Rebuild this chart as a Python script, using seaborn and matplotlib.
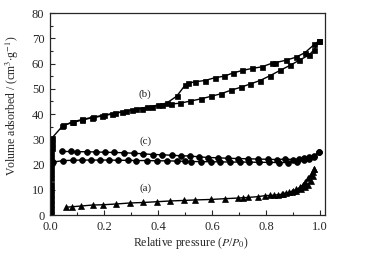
import numpy as np
import pandas as pd
import matplotlib
matplotlib.use('Agg')
import matplotlib.pyplot as plt
import seaborn as sns
from matplotlib.ticker import MultipleLocator

# ---------- 数据 ----------
# (b) 吸附 / 脱附
b_ads_x = [0.003, 0.003, 0.003, 0.004, 0.004, 0.004, 0.004, 0.005, 0.005, 0.005, 0.005, 0.005, 0.005,
           0.006, 0.006, 0.007, 0.049, 0.086, 0.117, 0.154, 0.191, 0.228, 0.265,
           0.302, 0.339, 0.376, 0.414, 0.447, 0.48, 0.517, 0.557, 0.594, 0.631, 0.668, 0.705, 0.74,
           0.777, 0.814, 0.851, 0.888, 0.922, 0.958, 0.978, 0.995]
b_ads_y = [0.5, 2.5, 4.5, 6.5, 8.5, 10.5, 12.5, 14.5, 16.5, 18.5, 20.5, 22.5, 24.5,
           26.5, 28.5, 30.5, 35.6, 36.7, 37.6, 38.5, 39.2, 40.0, 40.8,
           41.5, 42.2, 43.0, 43.5, 44.0, 44.3, 45.1, 46.0, 47.0, 48.0, 49.4, 50.6, 51.9,
           53.3, 55.2, 57.3, 59.3, 61.3, 63.4, 65.5, 69.0]
b_des_x = [0.995, 0.978, 0.943, 0.909, 0.872, 0.834, 0.82, 0.783, 0.748, 0.712, 0.678, 0.643, 0.61,
           0.573, 0.536, 0.511, 0.5, 0.469, 0.432, 0.4, 0.36, 0.32, 0.28, 0.24, 0.2, 0.16, 0.12,
           0.08, 0.045]
b_des_y = [69.0, 67.6, 64.3, 62.5, 61.3, 60.4, 60.1, 58.7, 58.1, 57.3, 56.3, 55.0, 54.4,
           53.3, 52.8, 52.2, 51.5, 47.1, 44.4, 43.6, 42.8, 42.0, 41.2, 40.4, 39.6, 38.8, 37.9,
           36.8, 35.2]

# (c)
c_ads_x = [0.006, 0.012, 0.049, 0.084, 0.117, 0.15, 0.185, 0.219, 0.253, 0.288, 0.32, 0.358, 0.395,
           0.432, 0.469, 0.5, 0.523, 0.56, 0.594, 0.63, 0.666, 0.703, 0.737, 0.774, 0.81, 0.848,
           0.882, 0.915, 0.94, 0.96, 0.977, 0.995]
c_ads_y = [20.8, 21.0, 21.6, 21.7, 21.8, 21.8, 21.8, 21.8, 21.7, 21.7, 21.6, 21.6, 21.5,
           21.5, 21.4, 21.3, 21.2, 21.2, 21.1, 21.1, 21.0, 21.0, 21.0, 20.9, 20.9, 20.8,
           20.8, 21.2, 21.8, 22.3, 23.0, 24.8]
c_des_x = [0.995, 0.977, 0.96, 0.941, 0.923, 0.899, 0.868, 0.841, 0.807, 0.77, 0.733, 0.696, 0.66,
           0.622, 0.585, 0.55, 0.517, 0.485, 0.45, 0.416, 0.38, 0.343, 0.309, 0.274, 0.238, 0.204,
           0.17, 0.136, 0.101, 0.077, 0.043]
c_des_y = [24.8, 23.6, 22.9, 22.5, 22.2, 22.0, 22.2, 22.0, 22.1, 22.2, 22.3, 22.4, 22.5,
           22.7, 22.8, 23.1, 23.4, 23.5, 23.7, 23.9, 24.0, 24.3, 24.5, 24.7, 24.8, 24.9,
           25.0, 25.1, 25.1, 25.2, 25.2]

# (a)
a_ads_x = [0.058, 0.08, 0.115, 0.158, 0.197, 0.244, 0.296, 0.345, 0.395, 0.444, 0.494, 0.536, 0.595,
           0.647, 0.694, 0.715, 0.733, 0.768, 0.795, 0.814, 0.83, 0.844, 0.863, 0.875, 0.894, 0.91,
           0.93, 0.945, 0.955, 0.965, 0.972, 0.978]
a_ads_y = [3.1, 3.3, 3.6, 4.0, 4.1, 4.4, 4.8, 5.0, 5.3, 5.6, 5.8, 6.0, 6.2,
           6.5, 6.75, 6.9, 7.0, 7.3, 7.7, 7.8, 7.9, 8.1, 8.3, 8.6, 9.1, 9.6,
           10.2, 11.0, 12.0, 13.5, 15.5, 18.4]
a_des_x = [0.978, 0.972, 0.965, 0.955, 0.945, 0.935, 0.925, 0.912, 0.9, 0.885, 0.86]
a_des_y = [18.4, 17.2, 16.0, 14.6, 13.2, 12.0, 11.0, 10.2, 9.6, 9.0, 8.4]

labels = ['(a)', '(b)', '(c)']
label_x = [0.352, 0.352, 0.352]
label_y = [10.6, 47.9, 29.2]

# ---------- 样式 ----------
sns.set_style('ticks')
plt.rcParams['font.family'] = ['Liberation Serif', 'DejaVu Serif']
plt.rcParams['mathtext.fontset'] = 'stix'
plt.rcParams['xtick.direction'] = 'in'
plt.rcParams['ytick.direction'] = 'in'

fig = plt.figure(figsize=(3.76, 2.57), dpi=100)
ax = fig.add_axes([0.133, 0.163, 0.731, 0.786])

series = [
    (b_ads_x, b_ads_y, 's', 3.6),
    (b_des_x, b_des_y, 's', 3.6),
    (c_ads_x, c_ads_y, 'o', 4.2),
    (c_des_x, c_des_y, 'o', 4.2),
    (a_ads_x, a_ads_y, '^', 4.5),
    (a_des_x, a_des_y, '^', 4.5),
]
for xs, ys, mk, ms in series:
    df = pd.DataFrame({'x': xs, 'y': ys})
    sns.lineplot(data=df, x='x', y='y', sort=False, estimator=None, ax=ax,
                 color='black', lw=1.0, marker=mk, markersize=ms,
                 markeredgecolor='black', markeredgewidth=0.5)

for t, lx, ly in zip(labels, label_x, label_y):
    ax.text(lx, ly, t, fontsize=8, ha='center', va='center')

ax.set_xlim(0, 1.017)
ax.set_ylim(0, 80)
ax.xaxis.set_major_locator(MultipleLocator(0.2))
ax.xaxis.set_minor_locator(MultipleLocator(0.1))
ax.yaxis.set_major_locator(MultipleLocator(10))
ax.yaxis.set_minor_locator(MultipleLocator(5))
ax.xaxis.set_major_formatter(matplotlib.ticker.FormatStrFormatter('%.1f'))
ax.tick_params(which='major', length=3.5, width=0.8, labelsize=9)
ax.tick_params(axis='x', which='major', pad=4)
ax.tick_params(axis='y', which='major', pad=4)
ax.tick_params(which='minor', length=2, width=0.8)
for s in ax.spines.values():
    s.set_linewidth(0.9)

ax.set_xlabel('Relative pressure ($P$/$P_0$)', fontsize=8.5)
ax.set_ylabel('Volume adsorbed / (cm$^3$$\\cdot$g$^{-1}$)', fontsize=8.5)
ax.xaxis.set_label_coords(0.511, -0.1)
ax.yaxis.set_label_coords(-0.107, 0.54)

fig.savefig('out.png', dpi=100)
